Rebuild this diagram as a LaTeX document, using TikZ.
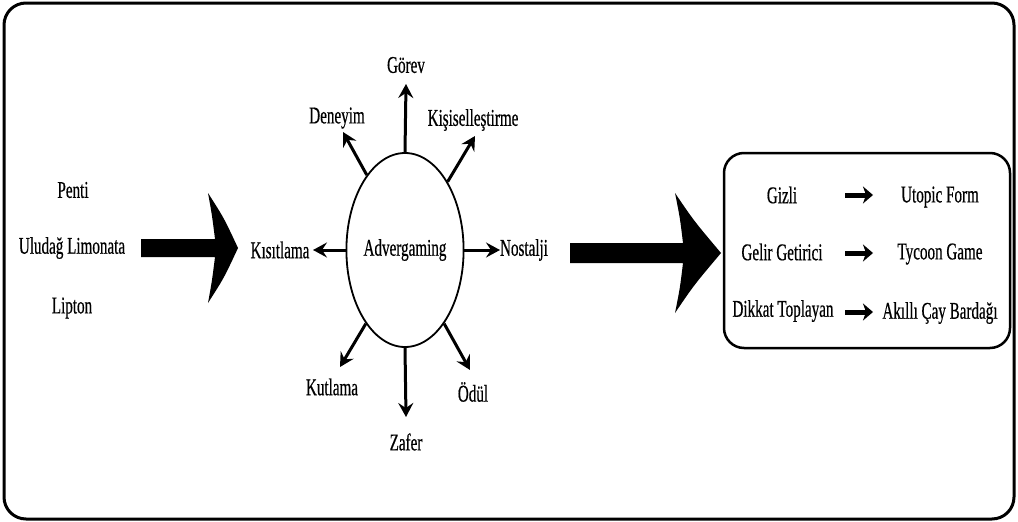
\documentclass[tikz,border=0pt]{standalone}
\usepackage{fontspec}
\setmainfont{Liberation Serif}[FakeStretch=0.63,FakeBold=0.5]
\usetikzlibrary{shapes.geometric,arrows.meta}
\begin{document}
\begin{tikzpicture}[x=1pt,y=-1pt,
 lbl/.style={inner sep=0pt, font=\fontsize{24}{28}\selectfont},
 spoke/.style={line width=3pt, -{Stealth[length=14pt,width=15pt,inset=5pt]}},
 rarrow/.style={line width=5pt, -{Stealth[length=10pt,width=17pt,inset=3pt]}},
 bigarrow/.style={fill=black}]
\useasboundingbox (0,0) rectangle (1018,522);
\draw[line width=3pt, rounded corners=22pt] (4,3) rectangle (1014,519);

% left texts
\node[lbl] (penti) at (73,190) {Penti};
\node[lbl] (uludag) at (72,248) {Uludağ Limonata};
\node[lbl] (lipton) at (72,308) {Lipton};

% big arrow 1
\fill[bigarrow] (141,239) -- (215,239) .. controls (212,215) .. (208,193)
  .. controls (224,218) .. (238,248) .. controls (224,278) .. (208,303)
  .. controls (212,281) .. (215,257) -- (141,257) -- cycle;

% central ellipse
\node[ellipse, draw, line width=1.8pt, minimum width=108pt, minimum height=194pt, lbl] (ad) at (405,250) {Advergaming};

\coordinate (tg) at (406,84);
\coordinate (td) at (343,132);
\coordinate (tk) at (475,136);
\coordinate (tks) at (313,250);
\coordinate (tn) at (500,250);
\coordinate (tku) at (340,367);
\coordinate (tz) at (406,417);
\coordinate (to) at (470,370);

\draw[spoke] (ad.north) -- (tg);
\draw[spoke] (ad.117) -- (td);
\draw[spoke] (ad.58) -- (tk);
\draw[spoke] (ad.west) -- (tks);
\draw[spoke] (ad.east) -- (tn);
\draw[spoke] (ad.242) -- (tku);
\draw[spoke] (ad.south) -- (tz);
\draw[spoke] (ad.298) -- (to);

\node[lbl] (gorev) at (406,65) {Görev};
\node[lbl] (deneyim) at (337,118) {Deneyim};
\node[lbl] (kis) at (473,120) {Kişiselleştirme};
\node[lbl] (kisit) at (280,250) {Kısıtlama};
\node[lbl] (nost) at (524,250) {Nostalji};
\node[lbl] (kutl) at (332,387) {Kutlama};
\node[lbl] (zafer) at (406,442) {Zafer};
\node[lbl] (odul) at (473,392) {Ödül};

% big arrow 2
\fill[bigarrow] (570,243) -- (683,243) .. controls (680,218) .. (675,193)
  .. controls (694,221) .. (721,253) .. controls (694,285) .. (675,313)
  .. controls (680,288) .. (683,263) -- (570,263) -- cycle;

% right box
\draw[line width=2.5pt, rounded corners=20pt] (724,153) rectangle (1010,348);

\node[lbl] (gizli) at (782,195) {Gizli};
\node[lbl] (utopic) at (940,197) {Utopic Form};
\node[lbl] (gelir) at (782,252) {Gelir Getirici};
\node[lbl] (tycoon) at (940,254) {Tycoon Game};
\node[lbl] (dikkat) at (783,311) {Dikkat Toplayan};
\node[lbl] (akilli) at (940,313) {Akıllı Çay Bardağı};

\coordinate (a1s) at (845,195); \coordinate (a1e) at (873,195);
\coordinate (a2s) at (845,253); \coordinate (a2e) at (873,253);
\coordinate (a3s) at (845,312); \coordinate (a3e) at (873,312);
\draw[rarrow] (a1s) -- (a1e);
\draw[rarrow] (a2s) -- (a2e);
\draw[rarrow] (a3s) -- (a3e);
\end{tikzpicture}
\end{document}
